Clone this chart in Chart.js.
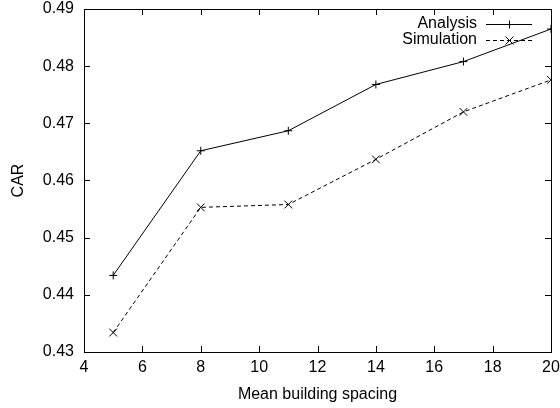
<!DOCTYPE html>
<html>
<head>
<meta charset="utf-8">
<script src="https://cdn.jsdelivr.net/npm/chart.js@4/dist/chart.umd.min.js"></script>
<style>
  html, body { margin: 0; padding: 0; background: #fff; }
  #wrap { width: 560px; height: 408px; }
</style>
</head>
<body>
<div id="wrap"><canvas id="myChart" width="560" height="408"></canvas></div>
<script>
const spacing = [5, 8, 11, 14, 17, 20];
const analysis = [0.4434, 0.4652, 0.4687, 0.4768, 0.4808, 0.4865];
const simulation = [0.4334, 0.4553, 0.4558, 0.4637, 0.4720, 0.4776];
const xTicks = [4, 6, 8, 10, 12, 14, 16, 18, 20];
const yTicks = [0.43, 0.44, 0.45, 0.46, 0.47, 0.48, 0.49];

const FONT = "'Liberation Sans', Arial, Helvetica, sans-serif";

// gnuplot-like frame with inward ticks on all four sides + inside legend
const framePlugin = {
  id: "frame",
  afterDatasetsDraw(chart) {
    const { ctx, chartArea: a, scales } = chart;
    ctx.save();
    ctx.strokeStyle = "#000";
    ctx.lineWidth = 1;
    ctx.setLineDash([]);
    ctx.strokeRect(a.left + 0.5, a.top + 0.5, a.right - a.left, a.bottom - a.top);
    ctx.beginPath();
    xTicks.forEach((v) => {
      const px = Math.round(scales.x.getPixelForValue(v)) + 0.5;
      ctx.moveTo(px, a.bottom);
      ctx.lineTo(px, a.bottom - 6);
      ctx.moveTo(px, a.top);
      ctx.lineTo(px, a.top + 6);
    });
    yTicks.forEach((v) => {
      const py = Math.round(scales.y.getPixelForValue(v)) + 0.5;
      ctx.moveTo(a.left, py);
      ctx.lineTo(a.left + 6, py);
      ctx.moveTo(a.right, py);
      ctx.lineTo(a.right - 6, py);
    });
    ctx.stroke();

    // legend
    ctx.font = "16px " + FONT;
    ctx.fillStyle = "#000";
    ctx.textAlign = "right";
    ctx.textBaseline = "middle";
    chart.data.datasets.forEach((ds, i) => {
      const y = 24 + i * 16;
      ctx.fillText(ds.label, 477, y);
      ctx.setLineDash(ds.borderDash || []);
      ctx.beginPath();
      ctx.moveTo(486, y + 0.5);
      ctx.lineTo(532, y + 0.5);
      ctx.stroke();
      ctx.setLineDash([]);
      ctx.beginPath();
      const cx = 509.5, r = 4;
      if (ds.pointStyle === "cross") {
        ctx.moveTo(cx - r, y + 0.5); ctx.lineTo(cx + r, y + 0.5);
        ctx.moveTo(cx, y - r + 0.5); ctx.lineTo(cx, y + r + 0.5);
      } else {
        ctx.moveTo(cx - r, y - r + 0.5); ctx.lineTo(cx + r, y + r + 0.5);
        ctx.moveTo(cx - r, y + r + 0.5); ctx.lineTo(cx + r, y - r + 0.5);
      }
      ctx.stroke();
    });
    ctx.restore();
  },
};

const ctx = document.getElementById("myChart").getContext("2d");
new Chart(ctx, {
  type: "line",
  data: {
    datasets: [
      {
        label: "Analysis",
        data: spacing.map((x, i) => ({ x, y: analysis[i] })),
        borderColor: "#000",
        borderWidth: 1,
        pointStyle: "cross",
        pointRadius: 4,
        pointBorderColor: "#000",
        pointBorderWidth: 1,
        fill: false,
        tension: 0,
      },
      {
        label: "Simulation",
        data: spacing.map((x, i) => ({ x, y: simulation[i] })),
        borderColor: "#000",
        borderWidth: 1,
        borderDash: [4, 3],
        pointStyle: "crossRot",
        pointRadius: 5.5,
        pointBorderColor: "#000",
        pointBorderWidth: 1,
        fill: false,
        tension: 0,
      },
    ],
  },
  options: {
    responsive: false,
    animation: false,
    layout: { padding: { top: 9, right: 9, left: 0, bottom: 0 } },
    plugins: { legend: { display: false }, tooltip: { enabled: false } },
    scales: {
      x: {
        type: "linear",
        min: 4,
        max: 20,
        afterBuildTicks: (s) => { s.ticks = xTicks.map((v) => ({ value: v })); },
        afterFit: (s) => { s.height = 56; s.paddingLeft = 0; s.paddingRight = 0; },
        grid: { display: false, drawTicks: false },
        border: { display: false },
        ticks: { color: "#000", font: { family: FONT, size: 16 }, padding: 6, maxRotation: 0 },
        title: { display: true, text: "Mean building spacing", color: "#000", font: { family: FONT, size: 16 }, padding: { top: 0, bottom: 4 } },
      },
      y: {
        min: 0.43,
        max: 0.49,
        afterBuildTicks: (s) => { s.ticks = yTicks.map((v) => ({ value: v })); },
        afterFit: (s) => { s.width = 84; s.paddingTop = 0; s.paddingBottom = 0; },
        grid: { display: false, drawTicks: false },
        border: { display: false },
        ticks: { color: "#000", font: { family: FONT, size: 16 }, padding: 10, callback: (v) => v.toFixed(2) },
        title: { display: true, text: "CAR", color: "#000", font: { family: FONT, size: 16 }, padding: { top: 9, bottom: 0 } },
      },
    },
  },
  plugins: [framePlugin],
});
</script>
</body>
</html>
